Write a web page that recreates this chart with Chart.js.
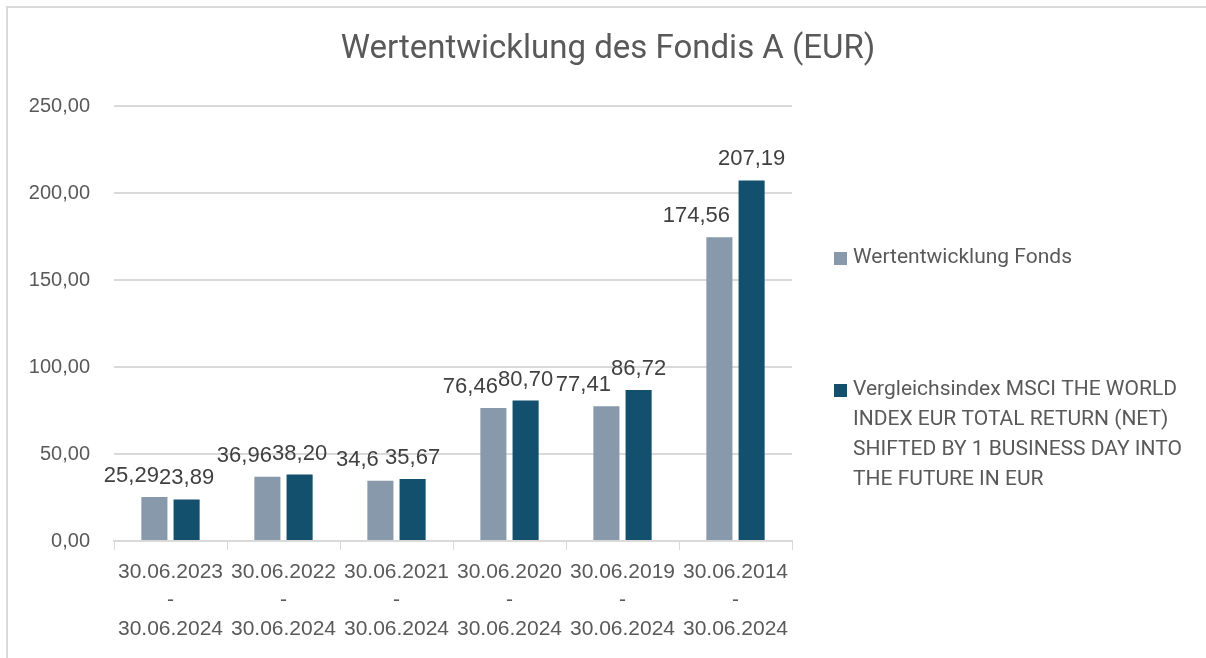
<!DOCTYPE html>
<html>
<head>
<meta charset="utf-8">
<script src="https://cdn.jsdelivr.net/npm/chart.js@4.4.0/dist/chart.umd.min.js"></script>
<style>
  html, body { margin: 0; padding: 0; background: #fff; }
  #wrap { position: relative; width: 1206px; height: 658px; }
</style>
</head>
<body>
<div id="wrap"><canvas id="chart"></canvas></div>
<script>
// Zeiträume (x-Achse), jeweils dreizeilig
const periods = [
  ['30.06.2023', '-', '30.06.2024'],
  ['30.06.2022', '-', '30.06.2024'],
  ['30.06.2021', '-', '30.06.2024'],
  ['30.06.2020', '-', '30.06.2024'],
  ['30.06.2019', '-', '30.06.2024'],
  ['30.06.2014', '-', '30.06.2024']
];

// Werte wie beschriftet (deutsches Format)
const fondsValues = ['25,29', '36,96', '34,6', '76,46', '77,41', '174,56'];
const indexValues = ['23,89', '38,20', '35,67', '80,70', '86,72', '207,19'];

const seriesNames = [
  'Wertentwicklung Fonds',
  'Vergleichsindex MSCI THE WORLD INDEX EUR TOTAL RETURN (NET) SHIFTED BY 1 BUSINESS DAY INTO THE FUTURE IN EUR'
];
const legendLines = [
  ['Wertentwicklung Fonds'],
  ['Vergleichsindex MSCI THE WORLD', 'INDEX EUR TOTAL RETURN (NET)', 'SHIFTED BY 1 BUSINESS DAY INTO', 'THE FUTURE IN EUR']
];

const yTicks = [0, 50, 100, 150, 200, 250];

const toNum = s => parseFloat(s.replace(',', '.'));
const fmtTick = v => v.toFixed(2).replace('.', ',');

const colors = ['#8799AA', '#12506E'];
const textColor = '#595959';
const tickFont = '"Liberation Sans", Arial, sans-serif';
const aptosLike = 'Roboto, "Noto Sans", sans-serif';

// Rahmen, Titel, Werte über den Balken und Legende rechts
const decor = {
  id: 'decor',
  afterDraw(chart) {
    const ctx = chart.ctx;
    ctx.save();
    ctx.strokeStyle = '#d9d9d9';
    ctx.lineWidth = 2;
    ctx.beginPath();
    ctx.moveTo(7, 660);
    ctx.lineTo(7, 7);
    ctx.lineTo(1206, 7);
    ctx.stroke();

    ctx.fillStyle = textColor;
    ctx.font = '33px ' + aptosLike;
    ctx.textAlign = 'center';
    ctx.textBaseline = 'middle';
    ctx.fillText('Wertentwicklung des Fondis A (EUR)', 608, 50);

    // Wertelabels: Index mittig, Fonds-Label etwas nach links versetzt
    ctx.font = '22px ' + tickFont;
    ctx.fillStyle = '#404040';
    ctx.textBaseline = 'alphabetic';
    chart.data.datasets.forEach((ds, di) => {
      const shift = di === 0 ? -23 : 0;
      chart.getDatasetMeta(di).data.forEach((bar, i) => {
        ctx.fillText(ds.valueLabels[i], bar.x + shift, bar.y - 15);
      });
    });

    ctx.font = '21px ' + aptosLike;
    ctx.textAlign = 'left';
    ctx.textBaseline = 'middle';
    const starts = [258, 390];
    legendLines.forEach((lines, li) => {
      ctx.fillStyle = colors[li];
      ctx.fillRect(834, starts[li] - 6, 13, 13);
      ctx.fillStyle = textColor;
      lines.forEach((line, k) => {
        ctx.fillText(line, 853, starts[li] + k * 30);
      });
    });
    ctx.restore();
  }
};

new Chart(document.getElementById('chart'), {
  type: 'bar',
  data: {
    labels: periods,
    datasets: [
      { label: seriesNames[0], data: fondsValues.map(toNum), valueLabels: fondsValues,
        backgroundColor: colors[0] },
      { label: seriesNames[1], data: indexValues.map(toNum), valueLabels: indexValues,
        backgroundColor: colors[1] }
    ]
  },
  options: {
    responsive: true,
    maintainAspectRatio: false,
    animation: false,
    layout: { padding: { left: 8, top: 106, right: 414, bottom: 0 } },
    categoryPercentage: 0.57,
    barPercentage: 0.81,
    plugins: {
      legend: { display: false },
      tooltip: { enabled: false }
    },
    scales: {
      x: {
        afterFit(scale) { scale.height = 117; },
        grid: { drawOnChartArea: false, offset: true, tickLength: 9, color: '#d9d9d9' },
        border: { color: '#d9d9d9', width: 2 },
        ticks: {
          color: textColor,
          font: { family: tickFont, size: 21, lineHeight: 1.35 },
          maxRotation: 0,
          autoSkip: false,
          padding: 8
        }
      },
      y: {
        min: 0,
        max: 250,
        afterFit(scale) { scale.width = 106; },
        afterBuildTicks(scale) { scale.ticks = yTicks.map(v => ({ value: v })); },
        grid: { color: '#d9d9d9', lineWidth: 2, drawTicks: false },
        border: { display: false },
        ticks: {
          color: textColor,
          font: { family: tickFont, size: 20 },
          padding: 24,
          callback: v => fmtTick(v)
        }
      }
    }
  },
  plugins: [decor]
});
</script>
</body>
</html>
